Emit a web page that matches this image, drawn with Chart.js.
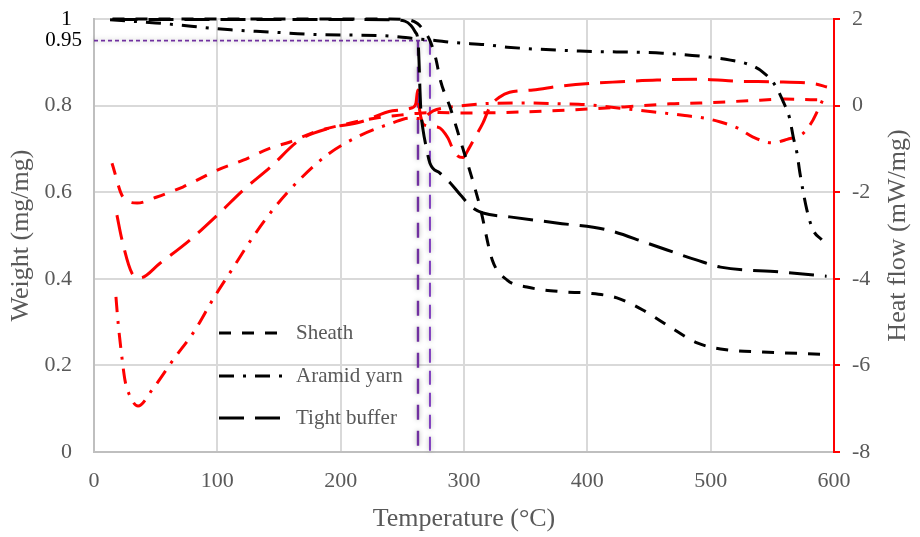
<!DOCTYPE html>
<html>
<head>
<meta charset="utf-8">
<script src="https://cdn.jsdelivr.net/npm/chart.js@4.4.1/dist/chart.umd.min.js"></script>
<style>
  html, body { margin: 0; padding: 0; background: #fff; }
  #wrap { width: 920px; height: 537px; position: relative; }
</style>
</head>
<body>
<div id="wrap"><canvas id="tga"></canvas></div>
<script>
// TG curves (weight, left axis)
const sheathTgTemp = [15, 50, 100, 150, 200, 240, 255, 262, 267, 272.4, 277, 281, 289, 297, 306, 313, 323, 335, 351, 380, 400, 424, 445, 467, 489, 508, 542, 589];
const sheathTgWeight = [1.0, 1.0, 1.0, 1.0, 1.0, 1.0, 0.998, 0.99, 0.975, 0.95, 0.91, 0.857, 0.794, 0.72, 0.637, 0.566, 0.443, 0.397, 0.381, 0.370, 0.367, 0.356, 0.328, 0.289, 0.252, 0.238, 0.231, 0.226];

const aramidTgTemp = [13, 50, 111, 143, 173, 202, 230, 250, 262, 275, 290, 320, 335, 394, 461, 499, 516, 532, 542, 552, 559, 564, 567, 570, 572.4, 578, 583, 590];
const aramidTgWeight = [0.998, 0.991, 0.975, 0.970, 0.965, 0.963, 0.962, 0.958, 0.954, 0.951, 0.946, 0.94, 0.935, 0.926, 0.921, 0.912, 0.905, 0.894, 0.878, 0.848, 0.808, 0.771, 0.727, 0.69, 0.644, 0.559, 0.513, 0.49];

const bufferTgTemp = [15, 50, 100, 150, 200, 240, 252, 257, 260.5, 262.7, 263.5, 264.3, 265, 266.8, 269, 272.4, 280.5, 288.7, 297, 307, 315.4, 337, 375, 416, 448, 489, 508, 556, 594];
const bufferTgWeight = [0.999, 0.999, 0.999, 0.999, 0.999, 0.998, 0.995, 0.985, 0.97, 0.95, 0.905, 0.836, 0.79, 0.744, 0.709, 0.667, 0.644, 0.622, 0.594, 0.564, 0.552, 0.543, 0.529, 0.513, 0.483, 0.443, 0.427, 0.416, 0.406];

// DSC curves (heat flow, right axis)
const sheathDscTemp = [14.6, 23.5, 35, 51, 72, 100, 121, 143, 159, 177, 208, 230, 248, 262, 280, 300, 330, 370, 400, 430, 467, 491, 530, 560, 591];
const sheathDscHeat = [-1.33, -2.11, -2.25, -2.11, -1.88, -1.49, -1.26, -0.98, -0.84, -0.63, -0.40, -0.28, -0.22, -0.18, -0.16, -0.17, -0.16, -0.12, -0.08, -0.03, 0.04, 0.06, 0.11, 0.15, 0.13];

const aramidDscTemp = [17.8, 19.5, 22.7, 25.1, 28.4, 35.7, 47, 64, 82, 96.5, 112.7, 129, 146.8, 167, 189, 213, 242, 256, 265, 275, 285, 300, 320, 350, 380, 400, 426.5, 449, 465, 479, 495, 508, 522, 534, 550, 562, 575, 582, 587, 591];
const aramidDscHeat = [-4.42, -5.0, -5.83, -6.34, -6.66, -6.94, -6.57, -5.88, -5.18, -4.47, -3.75, -3.03, -2.34, -1.70, -1.14, -0.73, -0.40, -0.29, -0.3, -0.12, -0.05, 0.0, 0.05, 0.06, 0.04, 0.02, -0.06, -0.13, -0.18, -0.23, -0.29, -0.38, -0.52, -0.72, -0.86, -0.78, -0.64, -0.38, -0.1, 0.14];

const bufferDscTemp = [18.6, 22.7, 30.8, 37.3, 53.5, 78, 100, 121, 143, 167, 191, 216, 242, 258, 261, 262.5, 264, 268, 279, 287, 290.3, 294.3, 299.2, 303.2, 309, 315.4, 321, 329, 337, 356, 378, 406, 426.5, 456.5, 491, 524, 552, 584.6, 594.3];
const bufferDscHeat = [-2.53, -3.10, -3.87, -3.98, -3.64, -3.10, -2.53, -1.95, -1.42, -0.79, -0.52, -0.38, -0.12, -0.05, 0.05, 0.36, -0.1, -0.45, -0.5, -0.75, -0.96, -1.15, -1.2, -1.03, -0.73, -0.40, -0.03, 0.20, 0.31, 0.36, 0.45, 0.52, 0.55, 0.59, 0.61, 0.56, 0.55, 0.50, 0.43];

// 5 % weight-loss markers
const onsetWeight = 0.95;
const onsetTemps = [262.7, 272.4];

const xTicks = [0, 100, 200, 300, 400, 500, 600];
const weightTicks = [0, 0.2, 0.4, 0.6, 0.8, 1];
const heatTicks = [-8, -6, -4, -2, 0, 2];

const legendNames = ["Sheath", "Aramid yarn", "Tight buffer"];

const toPoints = (xs, ys) => xs.map((x, i) => ({ x: x, y: ys[i] }));

const DASH = [12, 11];
const DASH_DOT = [15, 9, 3, 9];
const LONG_DASH = [25, 11];

const serif = "'Liberation Serif', 'Times New Roman', serif";
const grey = "#595959";

const curve = (label, xs, ys, color, dash, axis) => ({
  label: label,
  data: toPoints(xs, ys),
  yAxisID: axis,
  borderColor: color,
  borderWidth: 3,
  borderDash: dash,
  borderCapStyle: "butt",
  pointRadius: 0,
  fill: false,
  cubicInterpolationMode: "monotone",
  clip: 6,
});

const datasets = [
  curve(legendNames[0], sheathTgTemp, sheathTgWeight, "#000000", DASH, "y"),
  curve(legendNames[1], aramidTgTemp, aramidTgWeight, "#000000", DASH_DOT, "y"),
  curve(legendNames[2], bufferTgTemp, bufferTgWeight, "#000000", LONG_DASH, "y"),
  curve("Sheath DSC", sheathDscTemp, sheathDscHeat, "#ff0000", DASH, "y2"),
  curve("Aramid yarn DSC", aramidDscTemp, aramidDscHeat, "#ff0000", DASH_DOT, "y2"),
  curve("Tight buffer DSC", bufferDscTemp, bufferDscHeat, "#ff0000", LONG_DASH, "y2"),
  {
    label: "0.95 line",
    data: [{ x: 0, y: onsetWeight }, { x: onsetTemps[1], y: onsetWeight }],
    yAxisID: "y", borderColor: "#7030a0", borderWidth: 1.6, borderDash: [4, 3],
    pointRadius: 0, tension: 0, glow: true, clip: 4,
  },
  {
    label: "onset 1",
    data: [{ x: onsetTemps[0], y: onsetWeight }, { x: onsetTemps[0], y: 0 }],
    yAxisID: "y", borderColor: "#7030a0", borderWidth: 2.4, borderDash: [15, 11],
    pointRadius: 0, tension: 0, glow: true, clip: 4,
  },
  {
    label: "onset 2",
    data: [{ x: onsetTemps[1], y: onsetWeight }, { x: onsetTemps[1], y: 0 }],
    yAxisID: "y", borderColor: "#7f3fbf", borderWidth: 2, borderDash: [14, 8],
    pointRadius: 0, tension: 0, glow: true, clip: 4,
  },
];

// soft shadow under the purple marker lines
const glowPlugin = {
  id: "glow",
  beforeDatasetDraw(chart, args) {
    if (chart.data.datasets[args.index].glow) {
      const ctx = chart.ctx;
      ctx.save();
      ctx.shadowColor = "rgba(0,0,0,0.35)";
      ctx.shadowBlur = 5;
    }
  },
  afterDatasetDraw(chart, args) {
    if (chart.data.datasets[args.index].glow) chart.ctx.restore();
  },
};

// legend inside the plot, right axis title and the 0.95 label
const extrasPlugin = {
  id: "extras",
  afterDraw(chart) {
    const ctx = chart.ctx;
    ctx.save();

    // legend (black TG curves only)
    const rows = [333, 376, 418];
    ctx.font = "21px " + serif;
    ctx.textBaseline = "middle";
    ctx.textAlign = "left";
    for (let i = 0; i < 3; i++) {
      const ds = chart.data.datasets[i];
      ctx.strokeStyle = "#000";
      ctx.lineWidth = 3;
      ctx.lineCap = "butt";
      ctx.setLineDash(ds.borderDash);
      ctx.beginPath();
      ctx.moveTo(219, rows[i]);
      ctx.lineTo(284, rows[i]);
      ctx.stroke();
      ctx.setLineDash([]);
      ctx.fillStyle = grey;
      ctx.fillText(legendNames[i], 296, rows[i]);
    }

    // 0.95 label next to the left axis
    const yScale = chart.scales.y;
    ctx.fillStyle = "#000";
    ctx.font = "21px " + serif;
    ctx.textAlign = "right";
    ctx.fillText("0.95", 82, yScale.getPixelForValue(onsetWeight));

    // right axis title, reading bottom to top
    const y2 = chart.scales.y2;
    ctx.translate(898, (y2.top + y2.bottom) / 2);
    ctx.rotate(-Math.PI / 2);
    ctx.textAlign = "center";
    ctx.fillStyle = grey;
    ctx.font = "26px " + serif;
    ctx.fillText("Heat flow (mW/mg)", 0, 0);
    ctx.restore();
  },
};

// fixed box sizes so the plot area sits at 94..834 x 19..452
const fixVertical = (width) => (s) => {
  s.width = width;
  s.paddingTop = 0;
  s.paddingBottom = 0;
};

new Chart(document.getElementById("tga"), {
  type: "line",
  data: { datasets: datasets },
  plugins: [glowPlugin, extrasPlugin],
  options: {
    responsive: true,
    maintainAspectRatio: false,
    animation: false,
    layout: { padding: { top: 19, left: 0, right: 0, bottom: 0 } },
    plugins: { legend: { display: false }, tooltip: { enabled: false } },
    scales: {
      x: {
        type: "linear",
        min: 0, max: 600,
        afterBuildTicks: (s) => { s.ticks = xTicks.map(v => ({ value: v })); },
        afterFit: (s) => { s.height = 85; s.paddingLeft = 0; s.paddingRight = 0; },
        grid: { color: "#d9d9d9", lineWidth: 2, drawTicks: false },
        border: { color: "#bfbfbf", width: 2 },
        ticks: { color: grey, font: { family: serif, size: 22 }, padding: 16 },
        title: {
          display: true, text: "Temperature (°C)", color: grey,
          font: { family: serif, size: 26 }, padding: { top: 0, bottom: 2 },
        },
      },
      y: {
        position: "left",
        min: 0, max: 1,
        afterBuildTicks: (s) => { s.ticks = weightTicks.map(v => ({ value: v })); },
        afterFit: fixVertical(94),
        grid: { color: "#d9d9d9", lineWidth: 2, drawTicks: false },
        border: { color: "#bfbfbf", width: 2 },
        ticks: {
          color: (c) => (c.tick && c.tick.value === 1 ? "#000" : grey),
          font: { family: serif, size: 22 },
          padding: 22,
          callback: (v) => String(+v.toFixed(1)),
        },
        title: {
          display: true, text: "Weight (mg/mg)", color: grey,
          font: { family: serif, size: 26 }, padding: { top: 6, bottom: 0 },
        },
      },
      y2: {
        position: "right",
        min: -8, max: 2,
        afterBuildTicks: (s) => { s.ticks = heatTicks.map(v => ({ value: v })); },
        afterFit: fixVertical(86),
        grid: { drawOnChartArea: false, drawTicks: true, tickLength: 6, color: "#ff0000", lineWidth: 2 },
        border: { color: "#ff0000", width: 2 },
        ticks: { color: grey, font: { family: serif, size: 22 }, padding: 12 },
      },
    },
  },
});
</script>
</body>
</html>
